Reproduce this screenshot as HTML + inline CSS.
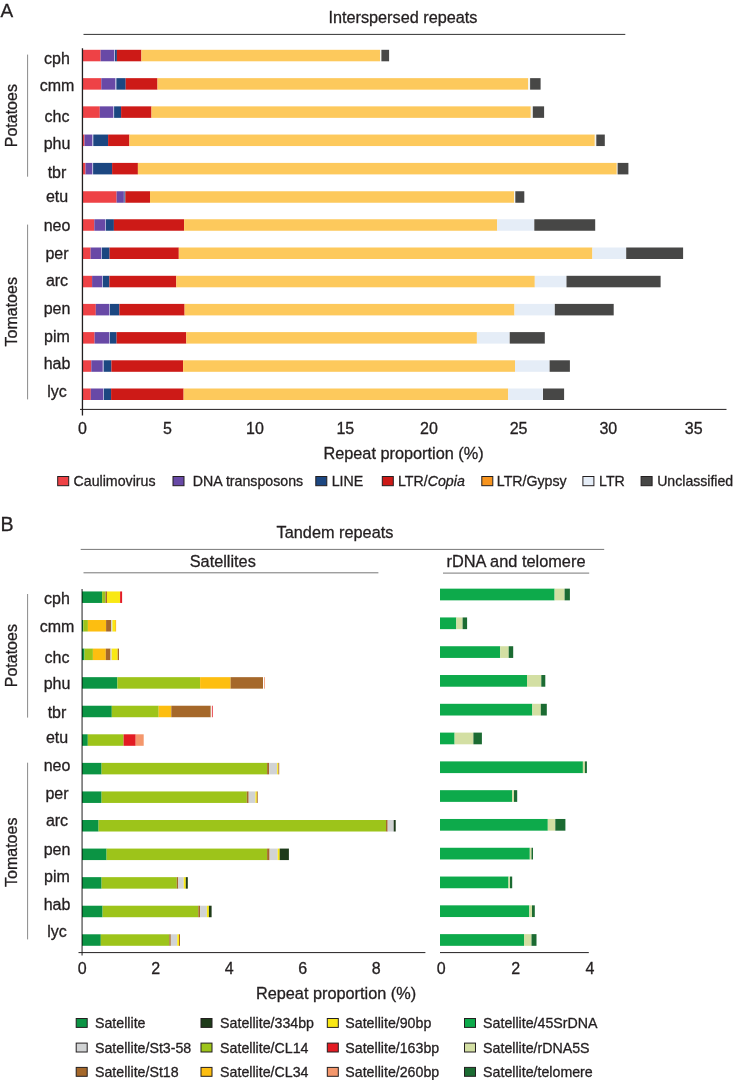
<!DOCTYPE html>
<html><head><meta charset="utf-8"><title>Repeat proportions</title>
<style>
html,body{margin:0;padding:0;background:#fff;}
body{width:734px;height:1080px;overflow:hidden;}
svg{display:block;font-family:"Liberation Sans",sans-serif;will-change:transform;opacity:0.999;}
text{stroke:#231f20;stroke-width:0.3px;}
</style></head><body>
<svg width="734" height="1080" viewBox="0 0 734 1080">
<rect x="0" y="0" width="734" height="1080" fill="#ffffff"/>
<rect x="82.40" y="49.80" width="18.20" height="11.50" fill="#ee4246"/>
<rect x="100.60" y="49.80" width="13.50" height="11.50" fill="#6849a6"/>
<rect x="114.10" y="49.80" width="0.90" height="11.50" fill="#b5afdc"/>
<rect x="115.00" y="49.80" width="1.90" height="11.50" fill="#1c4781"/>
<rect x="116.90" y="49.80" width="24.50" height="11.50" fill="#cd1a17"/>
<rect x="141.40" y="49.80" width="238.70" height="11.50" fill="#fdc95c"/>
<rect x="380.10" y="49.80" width="1.30" height="11.50" fill="#f3f3ee"/>
<rect x="381.40" y="49.80" width="7.70" height="11.50" fill="#474746"/>
<rect x="82.40" y="78.15" width="18.90" height="11.50" fill="#ee4246"/>
<rect x="101.30" y="78.15" width="14.10" height="11.50" fill="#6849a6"/>
<rect x="115.40" y="78.15" width="1.00" height="11.50" fill="#b5afdc"/>
<rect x="116.40" y="78.15" width="9.30" height="11.50" fill="#1c4781"/>
<rect x="125.70" y="78.15" width="31.80" height="11.50" fill="#cd1a17"/>
<rect x="157.50" y="78.15" width="370.60" height="11.50" fill="#fdc95c"/>
<rect x="528.10" y="78.15" width="2.00" height="11.50" fill="#f3f3ee"/>
<rect x="530.10" y="78.15" width="10.50" height="11.50" fill="#474746"/>
<rect x="82.40" y="106.35" width="17.40" height="11.50" fill="#ee4246"/>
<rect x="99.80" y="106.35" width="13.30" height="11.50" fill="#6849a6"/>
<rect x="113.10" y="106.35" width="1.00" height="11.50" fill="#b5afdc"/>
<rect x="114.10" y="106.35" width="7.00" height="11.50" fill="#1c4781"/>
<rect x="121.10" y="106.35" width="30.40" height="11.50" fill="#cd1a17"/>
<rect x="151.50" y="106.35" width="379.30" height="11.50" fill="#fdc95c"/>
<rect x="530.80" y="106.35" width="2.00" height="11.50" fill="#f3f3ee"/>
<rect x="532.80" y="106.35" width="11.30" height="11.50" fill="#474746"/>
<rect x="82.40" y="134.55" width="2.10" height="11.50" fill="#ee4246"/>
<rect x="84.50" y="134.55" width="7.60" height="11.50" fill="#6849a6"/>
<rect x="92.10" y="134.55" width="1.20" height="11.50" fill="#b5afdc"/>
<rect x="93.30" y="134.55" width="14.80" height="11.50" fill="#1c4781"/>
<rect x="108.10" y="134.55" width="21.30" height="11.50" fill="#cd1a17"/>
<rect x="129.40" y="134.55" width="465.40" height="11.50" fill="#fdc95c"/>
<rect x="594.80" y="134.55" width="1.50" height="11.50" fill="#f3f3ee"/>
<rect x="596.30" y="134.55" width="8.50" height="11.50" fill="#474746"/>
<rect x="82.40" y="162.90" width="3.10" height="11.50" fill="#ee4246"/>
<rect x="85.50" y="162.90" width="6.60" height="11.50" fill="#6849a6"/>
<rect x="92.10" y="162.90" width="1.00" height="11.50" fill="#b5afdc"/>
<rect x="93.10" y="162.90" width="19.00" height="11.50" fill="#1c4781"/>
<rect x="112.10" y="162.90" width="25.80" height="11.50" fill="#cd1a17"/>
<rect x="137.90" y="162.90" width="478.90" height="11.50" fill="#fdc95c"/>
<rect x="616.80" y="162.90" width="0.80" height="11.50" fill="#f3f3ee"/>
<rect x="617.60" y="162.90" width="10.80" height="11.50" fill="#474746"/>
<rect x="82.40" y="191.25" width="34.20" height="11.50" fill="#ee4246"/>
<rect x="116.60" y="191.25" width="7.30" height="11.50" fill="#6849a6"/>
<rect x="123.90" y="191.25" width="0.50" height="11.50" fill="#b5afdc"/>
<rect x="124.40" y="191.25" width="1.00" height="11.50" fill="#1c4781"/>
<rect x="125.40" y="191.25" width="24.60" height="11.50" fill="#cd1a17"/>
<rect x="150.00" y="191.25" width="364.10" height="11.50" fill="#fdc95c"/>
<rect x="514.10" y="191.25" width="1.20" height="11.50" fill="#f3f3ee"/>
<rect x="515.30" y="191.25" width="9.00" height="11.50" fill="#474746"/>
<rect x="82.40" y="219.25" width="11.90" height="11.50" fill="#ee4246"/>
<rect x="94.30" y="219.25" width="10.80" height="11.50" fill="#6849a6"/>
<rect x="105.10" y="219.25" width="0.80" height="11.50" fill="#b5afdc"/>
<rect x="105.90" y="219.25" width="8.00" height="11.50" fill="#1c4781"/>
<rect x="113.90" y="219.25" width="70.20" height="11.50" fill="#cd1a17"/>
<rect x="184.10" y="219.25" width="313.10" height="11.50" fill="#fdc95c"/>
<rect x="497.20" y="219.25" width="36.80" height="11.50" fill="#e5edf7"/>
<rect x="534.30" y="219.25" width="60.90" height="11.50" fill="#474746"/>
<rect x="82.40" y="247.50" width="8.20" height="11.50" fill="#ee4246"/>
<rect x="90.60" y="247.50" width="10.50" height="11.50" fill="#6849a6"/>
<rect x="101.10" y="247.50" width="0.80" height="11.50" fill="#b5afdc"/>
<rect x="101.90" y="247.50" width="7.70" height="11.50" fill="#1c4781"/>
<rect x="109.60" y="247.50" width="69.20" height="11.50" fill="#cd1a17"/>
<rect x="178.80" y="247.50" width="413.60" height="11.50" fill="#fdc95c"/>
<rect x="592.40" y="247.50" width="33.60" height="11.50" fill="#e5edf7"/>
<rect x="626.20" y="247.50" width="56.90" height="11.50" fill="#474746"/>
<rect x="82.40" y="275.80" width="9.70" height="11.50" fill="#ee4246"/>
<rect x="92.10" y="275.80" width="10.00" height="11.50" fill="#6849a6"/>
<rect x="102.10" y="275.80" width="0.80" height="11.50" fill="#b5afdc"/>
<rect x="102.90" y="275.80" width="6.50" height="11.50" fill="#1c4781"/>
<rect x="109.40" y="275.80" width="66.90" height="11.50" fill="#cd1a17"/>
<rect x="176.30" y="275.80" width="358.50" height="11.50" fill="#fdc95c"/>
<rect x="534.80" y="275.80" width="31.70" height="11.50" fill="#e5edf7"/>
<rect x="566.50" y="275.80" width="94.10" height="11.50" fill="#474746"/>
<rect x="82.40" y="303.90" width="13.40" height="11.50" fill="#ee4246"/>
<rect x="95.80" y="303.90" width="13.30" height="11.50" fill="#6849a6"/>
<rect x="109.10" y="303.90" width="0.80" height="11.50" fill="#b5afdc"/>
<rect x="109.90" y="303.90" width="9.50" height="11.50" fill="#1c4781"/>
<rect x="119.40" y="303.90" width="65.20" height="11.50" fill="#cd1a17"/>
<rect x="184.60" y="303.90" width="329.90" height="11.50" fill="#fdc95c"/>
<rect x="514.50" y="303.90" width="40.10" height="11.50" fill="#e5edf7"/>
<rect x="554.80" y="303.90" width="58.90" height="11.50" fill="#474746"/>
<rect x="82.40" y="332.10" width="12.20" height="11.50" fill="#ee4246"/>
<rect x="94.60" y="332.10" width="14.50" height="11.50" fill="#6849a6"/>
<rect x="109.10" y="332.10" width="0.80" height="11.50" fill="#b5afdc"/>
<rect x="109.90" y="332.10" width="6.70" height="11.50" fill="#1c4781"/>
<rect x="116.60" y="332.10" width="69.70" height="11.50" fill="#cd1a17"/>
<rect x="186.30" y="332.10" width="290.60" height="11.50" fill="#fdc95c"/>
<rect x="476.90" y="332.10" width="32.50" height="11.50" fill="#e5edf7"/>
<rect x="509.70" y="332.10" width="35.10" height="11.50" fill="#474746"/>
<rect x="82.40" y="360.30" width="8.90" height="11.50" fill="#ee4246"/>
<rect x="91.30" y="360.30" width="11.50" height="11.50" fill="#6849a6"/>
<rect x="102.80" y="360.30" width="1.00" height="11.50" fill="#b5afdc"/>
<rect x="103.80" y="360.30" width="7.60" height="11.50" fill="#1c4781"/>
<rect x="111.40" y="360.30" width="71.70" height="11.50" fill="#cd1a17"/>
<rect x="183.10" y="360.30" width="331.90" height="11.50" fill="#fdc95c"/>
<rect x="515.00" y="360.30" width="34.30" height="11.50" fill="#e5edf7"/>
<rect x="549.60" y="360.30" width="20.30" height="11.50" fill="#474746"/>
<rect x="82.40" y="388.50" width="8.40" height="11.50" fill="#ee4246"/>
<rect x="90.80" y="388.50" width="12.30" height="11.50" fill="#6849a6"/>
<rect x="103.10" y="388.50" width="0.80" height="11.50" fill="#b5afdc"/>
<rect x="103.90" y="388.50" width="7.20" height="11.50" fill="#1c4781"/>
<rect x="111.10" y="388.50" width="72.50" height="11.50" fill="#cd1a17"/>
<rect x="183.60" y="388.50" width="324.60" height="11.50" fill="#fdc95c"/>
<rect x="508.20" y="388.50" width="34.60" height="11.50" fill="#e5edf7"/>
<rect x="543.00" y="388.50" width="21.10" height="11.50" fill="#474746"/>
<line x1="82.45" y1="48.30" x2="82.45" y2="415.50" stroke="#231f20" stroke-width="1.3"/>
<line x1="80.00" y1="409.40" x2="726.50" y2="409.40" stroke="#231f20" stroke-width="1.0"/>
<line x1="83.50" y1="34.40" x2="625.30" y2="34.40" stroke="#333" stroke-width="1.0"/>
<line x1="27.60" y1="54.60" x2="27.60" y2="176.70" stroke="#8a8a8a" stroke-width="1.0"/>
<line x1="27.60" y1="224.60" x2="27.60" y2="399.40" stroke="#8a8a8a" stroke-width="1.0"/>
<text x="57.00" y="64.00" font-size="16" text-anchor="middle" fill="#231f20">cph</text>
<text x="57.00" y="91.00" font-size="16" text-anchor="middle" fill="#231f20">cmm</text>
<text x="57.00" y="122.00" font-size="16" text-anchor="middle" fill="#231f20">chc</text>
<text x="57.00" y="149.00" font-size="16" text-anchor="middle" fill="#231f20">phu</text>
<text x="57.00" y="178.00" font-size="16" text-anchor="middle" fill="#231f20">tbr</text>
<text x="57.00" y="202.00" font-size="16" text-anchor="middle" fill="#231f20">etu</text>
<text x="57.00" y="231.00" font-size="16" text-anchor="middle" fill="#231f20">neo</text>
<text x="57.00" y="259.00" font-size="16" text-anchor="middle" fill="#231f20">per</text>
<text x="57.00" y="286.00" font-size="16" text-anchor="middle" fill="#231f20">arc</text>
<text x="57.00" y="314.00" font-size="16" text-anchor="middle" fill="#231f20">pen</text>
<text x="57.00" y="342.00" font-size="16" text-anchor="middle" fill="#231f20">pim</text>
<text x="57.00" y="369.00" font-size="16" text-anchor="middle" fill="#231f20">hab</text>
<text x="57.00" y="397.00" font-size="16" text-anchor="middle" fill="#231f20">lyc</text>
<text transform="translate(17.10,115.70) rotate(-90)" font-size="16.0" text-anchor="middle" fill="#231f20">Potatoes</text>
<text transform="translate(17.10,311.80) rotate(-90)" font-size="16.0" text-anchor="middle" fill="#231f20">Tomatoes</text>
<text x="0.50" y="17.00" font-size="19" text-anchor="start" fill="#231f20">A</text>
<text x="402.90" y="23.00" font-size="16.25" text-anchor="middle" fill="#231f20">Interspersed repeats</text>
<text x="82.50" y="433.80" font-size="16" text-anchor="middle" fill="#231f20">0</text>
<text x="167.40" y="433.80" font-size="16" text-anchor="middle" fill="#231f20">5</text>
<text x="254.90" y="433.80" font-size="16" text-anchor="middle" fill="#231f20">10</text>
<text x="345.30" y="433.80" font-size="16" text-anchor="middle" fill="#231f20">15</text>
<text x="428.90" y="433.80" font-size="16" text-anchor="middle" fill="#231f20">20</text>
<text x="518.60" y="433.80" font-size="16" text-anchor="middle" fill="#231f20">25</text>
<text x="608.30" y="433.80" font-size="16" text-anchor="middle" fill="#231f20">30</text>
<text x="693.70" y="433.80" font-size="16" text-anchor="middle" fill="#231f20">35</text>
<text x="403.50" y="459.40" font-size="16.3" text-anchor="middle" fill="#231f20">Repeat proportion (%)</text>
<rect x="57.70" y="476.50" width="11.00" height="9.20" fill="#ee4246" stroke="#231f20" stroke-width="1"/>
<rect x="173.00" y="476.50" width="11.00" height="9.20" fill="#6849a6" stroke="#231f20" stroke-width="1"/>
<rect x="315.80" y="476.50" width="11.00" height="9.20" fill="#1c4781" stroke="#231f20" stroke-width="1"/>
<rect x="382.30" y="476.50" width="11.00" height="9.20" fill="#cd1a17" stroke="#231f20" stroke-width="1"/>
<rect x="481.80" y="476.50" width="11.00" height="9.20" fill="#f7941e" stroke="#231f20" stroke-width="1"/>
<rect x="582.90" y="476.50" width="11.00" height="9.20" fill="#e5edf7" stroke="#231f20" stroke-width="1"/>
<rect x="641.10" y="476.50" width="11.00" height="9.20" fill="#474746" stroke="#231f20" stroke-width="1"/>
<text x="73.50" y="486.10" font-size="14.2" text-anchor="start" fill="#231f20">Caulimovirus</text>
<text x="192.80" y="486.10" font-size="14.2" text-anchor="start" fill="#231f20">DNA transposons</text>
<text x="331.70" y="486.10" font-size="14.2" text-anchor="start" fill="#231f20">LINE</text>
<text x="398.0" y="486.1" font-size="14.2" fill="#231f20">LTR/<tspan font-style="italic">Copia</tspan></text>
<text x="496.80" y="486.10" font-size="14.2" text-anchor="start" fill="#231f20">LTR/Gypsy</text>
<text x="599.10" y="486.10" font-size="14.2" text-anchor="start" fill="#231f20">LTR</text>
<text x="657.20" y="486.10" font-size="14.1" text-anchor="start" fill="#231f20">Unclassified</text>
<rect x="82.00" y="591.45" width="20.10" height="11.50" fill="#0b9444"/>
<rect x="102.10" y="591.45" width="3.40" height="11.50" fill="#9dc41a"/>
<rect x="105.50" y="591.45" width="1.50" height="11.50" fill="#a5682a"/>
<rect x="107.00" y="591.45" width="13.10" height="11.50" fill="#f9e814"/>
<rect x="120.10" y="591.45" width="2.00" height="11.50" fill="#e31b23"/>
<rect x="82.00" y="620.02" width="1.30" height="11.50" fill="#0b9444"/>
<rect x="83.30" y="620.02" width="4.60" height="11.50" fill="#9dc41a"/>
<rect x="87.90" y="620.02" width="18.20" height="11.50" fill="#fdbe10"/>
<rect x="106.10" y="620.02" width="5.00" height="11.50" fill="#a5682a"/>
<rect x="111.10" y="620.02" width="1.30" height="11.50" fill="#d1d3d4"/>
<rect x="112.40" y="620.02" width="2.70" height="11.50" fill="#f9e814"/>
<rect x="115.10" y="620.02" width="1.00" height="11.50" fill="#fdbe10"/>
<rect x="82.00" y="648.59" width="2.50" height="11.50" fill="#0b9444"/>
<rect x="84.50" y="648.59" width="8.40" height="11.50" fill="#9dc41a"/>
<rect x="92.90" y="648.59" width="12.90" height="11.50" fill="#fdbe10"/>
<rect x="105.80" y="648.59" width="4.70" height="11.50" fill="#a5682a"/>
<rect x="110.50" y="648.59" width="1.20" height="11.50" fill="#d1d3d4"/>
<rect x="111.70" y="648.59" width="6.00" height="11.50" fill="#f9e814"/>
<rect x="117.70" y="648.59" width="1.30" height="11.50" fill="#a5682a"/>
<rect x="82.00" y="677.16" width="35.40" height="11.50" fill="#0b9444"/>
<rect x="117.40" y="677.16" width="82.70" height="11.50" fill="#9dc41a"/>
<rect x="200.10" y="677.16" width="30.50" height="11.50" fill="#fdbe10"/>
<rect x="230.60" y="677.16" width="32.40" height="11.50" fill="#a5682a"/>
<rect x="263.00" y="677.16" width="1.10" height="11.50" fill="#ffffff"/>
<rect x="264.10" y="677.16" width="0.80" height="11.50" fill="#f4976c"/>
<rect x="82.00" y="705.73" width="29.80" height="11.50" fill="#0b9444"/>
<rect x="111.80" y="705.73" width="46.90" height="11.50" fill="#9dc41a"/>
<rect x="158.70" y="705.73" width="12.60" height="11.50" fill="#fdbe10"/>
<rect x="171.30" y="705.73" width="39.50" height="11.50" fill="#a5682a"/>
<rect x="210.80" y="705.73" width="1.10" height="11.50" fill="#ffffff"/>
<rect x="211.90" y="705.73" width="0.80" height="11.50" fill="#e31b23"/>
<rect x="82.00" y="734.30" width="5.80" height="11.50" fill="#0b9444"/>
<rect x="87.80" y="734.30" width="35.80" height="11.50" fill="#9dc41a"/>
<rect x="123.60" y="734.30" width="12.10" height="11.50" fill="#e31b23"/>
<rect x="135.70" y="734.30" width="8.00" height="11.50" fill="#f4976c"/>
<rect x="82.00" y="762.87" width="19.60" height="11.50" fill="#0b9444"/>
<rect x="101.60" y="762.87" width="165.50" height="11.50" fill="#9dc41a"/>
<rect x="267.10" y="762.87" width="2.00" height="11.50" fill="#a5682a"/>
<rect x="269.10" y="762.87" width="8.10" height="11.50" fill="#d1d3d4"/>
<rect x="277.20" y="762.87" width="1.20" height="11.50" fill="#f9e814"/>
<rect x="278.40" y="762.87" width="0.80" height="11.50" fill="#a5682a"/>
<rect x="82.00" y="791.44" width="19.60" height="11.50" fill="#0b9444"/>
<rect x="101.60" y="791.44" width="145.20" height="11.50" fill="#9dc41a"/>
<rect x="246.80" y="791.44" width="1.90" height="11.50" fill="#a5682a"/>
<rect x="248.70" y="791.44" width="6.80" height="11.50" fill="#d1d3d4"/>
<rect x="255.50" y="791.44" width="1.30" height="11.50" fill="#f9e814"/>
<rect x="256.80" y="791.44" width="0.90" height="11.50" fill="#a5682a"/>
<rect x="82.00" y="820.01" width="16.60" height="11.50" fill="#0b9444"/>
<rect x="98.60" y="820.01" width="287.40" height="11.50" fill="#9dc41a"/>
<rect x="386.00" y="820.01" width="1.70" height="11.50" fill="#a5682a"/>
<rect x="387.70" y="820.01" width="6.00" height="11.50" fill="#d1d3d4"/>
<rect x="393.70" y="820.01" width="2.00" height="11.50" fill="#1e3b1a"/>
<rect x="82.00" y="848.58" width="24.60" height="11.50" fill="#0b9444"/>
<rect x="106.60" y="848.58" width="160.50" height="11.50" fill="#9dc41a"/>
<rect x="267.10" y="848.58" width="2.50" height="11.50" fill="#a5682a"/>
<rect x="269.60" y="848.58" width="8.10" height="11.50" fill="#d1d3d4"/>
<rect x="277.70" y="848.58" width="2.00" height="11.50" fill="#f9e814"/>
<rect x="279.70" y="848.58" width="9.20" height="11.50" fill="#1e3b1a"/>
<rect x="82.00" y="877.15" width="19.60" height="11.50" fill="#0b9444"/>
<rect x="101.60" y="877.15" width="75.20" height="11.50" fill="#9dc41a"/>
<rect x="176.80" y="877.15" width="1.50" height="11.50" fill="#a5682a"/>
<rect x="178.30" y="877.15" width="5.50" height="11.50" fill="#d1d3d4"/>
<rect x="183.80" y="877.15" width="2.00" height="11.50" fill="#f9e814"/>
<rect x="185.80" y="877.15" width="2.00" height="11.50" fill="#1e3b1a"/>
<rect x="82.00" y="905.72" width="20.60" height="11.50" fill="#0b9444"/>
<rect x="102.60" y="905.72" width="95.70" height="11.50" fill="#9dc41a"/>
<rect x="198.30" y="905.72" width="1.80" height="11.50" fill="#a5682a"/>
<rect x="200.10" y="905.72" width="6.80" height="11.50" fill="#d1d3d4"/>
<rect x="206.90" y="905.72" width="2.00" height="11.50" fill="#f9e814"/>
<rect x="208.90" y="905.72" width="2.70" height="11.50" fill="#1e3b1a"/>
<rect x="82.00" y="934.29" width="18.80" height="11.50" fill="#0b9444"/>
<rect x="100.80" y="934.29" width="68.50" height="11.50" fill="#9dc41a"/>
<rect x="169.30" y="934.29" width="1.50" height="11.50" fill="#a5682a"/>
<rect x="170.80" y="934.29" width="6.50" height="11.50" fill="#d1d3d4"/>
<rect x="177.30" y="934.29" width="1.70" height="11.50" fill="#f9e814"/>
<rect x="179.00" y="934.29" width="1.00" height="11.50" fill="#a5682a"/>
<rect x="440.00" y="588.65" width="114.60" height="11.70" fill="#0daa4b"/>
<rect x="554.60" y="588.65" width="10.00" height="11.70" fill="#d3dfa3"/>
<rect x="564.60" y="588.65" width="5.30" height="11.70" fill="#1b6b32"/>
<rect x="440.00" y="617.44" width="16.30" height="11.70" fill="#0daa4b"/>
<rect x="456.30" y="617.44" width="6.30" height="11.70" fill="#d3dfa3"/>
<rect x="462.60" y="617.44" width="4.50" height="11.70" fill="#1b6b32"/>
<rect x="440.00" y="646.23" width="60.20" height="11.70" fill="#0daa4b"/>
<rect x="500.20" y="646.23" width="8.50" height="11.70" fill="#d3dfa3"/>
<rect x="508.70" y="646.23" width="4.50" height="11.70" fill="#1b6b32"/>
<rect x="440.00" y="675.02" width="87.00" height="11.70" fill="#0daa4b"/>
<rect x="527.00" y="675.02" width="14.30" height="11.70" fill="#d3dfa3"/>
<rect x="541.30" y="675.02" width="4.00" height="11.70" fill="#1b6b32"/>
<rect x="440.00" y="703.81" width="92.30" height="11.70" fill="#0daa4b"/>
<rect x="532.30" y="703.81" width="8.50" height="11.70" fill="#d3dfa3"/>
<rect x="540.80" y="703.81" width="6.00" height="11.70" fill="#1b6b32"/>
<rect x="440.00" y="732.60" width="14.60" height="11.70" fill="#0daa4b"/>
<rect x="454.60" y="732.60" width="18.80" height="11.70" fill="#d3dfa3"/>
<rect x="473.40" y="732.60" width="8.50" height="11.70" fill="#1b6b32"/>
<rect x="440.00" y="761.39" width="142.90" height="11.70" fill="#0daa4b"/>
<rect x="582.90" y="761.39" width="2.00" height="11.70" fill="#d3dfa3"/>
<rect x="584.90" y="761.39" width="2.00" height="11.70" fill="#1b6b32"/>
<rect x="440.00" y="790.18" width="72.20" height="11.70" fill="#0daa4b"/>
<rect x="512.20" y="790.18" width="1.80" height="11.70" fill="#d3dfa3"/>
<rect x="514.00" y="790.18" width="3.20" height="11.70" fill="#1b6b32"/>
<rect x="440.00" y="818.97" width="107.80" height="11.70" fill="#0daa4b"/>
<rect x="547.80" y="818.97" width="7.50" height="11.70" fill="#d3dfa3"/>
<rect x="555.30" y="818.97" width="10.10" height="11.70" fill="#1b6b32"/>
<rect x="440.00" y="847.76" width="89.80" height="11.70" fill="#0daa4b"/>
<rect x="529.80" y="847.76" width="1.70" height="11.70" fill="#d3dfa3"/>
<rect x="531.50" y="847.76" width="1.50" height="11.70" fill="#1b6b32"/>
<rect x="440.00" y="876.55" width="68.50" height="11.70" fill="#0daa4b"/>
<rect x="508.50" y="876.55" width="1.50" height="11.70" fill="#d3dfa3"/>
<rect x="510.00" y="876.55" width="2.20" height="11.70" fill="#1b6b32"/>
<rect x="440.00" y="905.34" width="89.30" height="11.70" fill="#0daa4b"/>
<rect x="529.30" y="905.34" width="2.70" height="11.70" fill="#d3dfa3"/>
<rect x="532.00" y="905.34" width="2.80" height="11.70" fill="#1b6b32"/>
<rect x="440.00" y="934.13" width="84.00" height="11.70" fill="#0daa4b"/>
<rect x="524.00" y="934.13" width="7.50" height="11.70" fill="#d3dfa3"/>
<rect x="531.50" y="934.13" width="5.00" height="11.70" fill="#1b6b32"/>
<line x1="82.1" y1="589.0" x2="82.1" y2="955.5" stroke="#000" stroke-opacity="0.52" stroke-width="1.7"/>
<line x1="78.50" y1="952.60" x2="425.40" y2="952.60" stroke="#231f20" stroke-width="1.0"/>
<line x1="440.00" y1="952.60" x2="588.80" y2="952.60" stroke="#231f20" stroke-width="1.0"/>
<line x1="80.70" y1="549.40" x2="604.20" y2="549.40" stroke="#777" stroke-width="1.0"/>
<line x1="83.50" y1="572.80" x2="378.40" y2="572.80" stroke="#777" stroke-width="1.0"/>
<line x1="443.00" y1="573.10" x2="589.20" y2="573.10" stroke="#777" stroke-width="1.0"/>
<line x1="27.60" y1="594.00" x2="27.60" y2="717.60" stroke="#8a8a8a" stroke-width="1.0"/>
<line x1="27.60" y1="762.70" x2="27.60" y2="939.40" stroke="#8a8a8a" stroke-width="1.0"/>
<text x="0.40" y="531.00" font-size="19.6" text-anchor="start" fill="#231f20">B</text>
<text x="335.00" y="538.20" font-size="16.3" text-anchor="middle" fill="#231f20">Tandem repeats</text>
<text x="222.80" y="566.80" font-size="16.3" text-anchor="middle" fill="#231f20">Satellites</text>
<text x="516.00" y="567.10" font-size="16.35" text-anchor="middle" fill="#231f20">rDNA and telomere</text>
<text x="57.00" y="604.00" font-size="16" text-anchor="middle" fill="#231f20">cph</text>
<text x="57.00" y="632.00" font-size="16" text-anchor="middle" fill="#231f20">cmm</text>
<text x="57.00" y="663.00" font-size="16" text-anchor="middle" fill="#231f20">chc</text>
<text x="57.00" y="689.00" font-size="16" text-anchor="middle" fill="#231f20">phu</text>
<text x="57.00" y="718.00" font-size="16" text-anchor="middle" fill="#231f20">tbr</text>
<text x="57.00" y="743.00" font-size="16" text-anchor="middle" fill="#231f20">etu</text>
<text x="57.00" y="771.00" font-size="16" text-anchor="middle" fill="#231f20">neo</text>
<text x="57.00" y="799.00" font-size="16" text-anchor="middle" fill="#231f20">per</text>
<text x="57.00" y="826.00" font-size="16" text-anchor="middle" fill="#231f20">arc</text>
<text x="57.00" y="855.00" font-size="16" text-anchor="middle" fill="#231f20">pen</text>
<text x="57.00" y="882.00" font-size="16" text-anchor="middle" fill="#231f20">pim</text>
<text x="57.00" y="910.00" font-size="16" text-anchor="middle" fill="#231f20">hab</text>
<text x="57.00" y="937.00" font-size="16" text-anchor="middle" fill="#231f20">lyc</text>
<text transform="translate(17.10,655.70) rotate(-90)" font-size="16.0" text-anchor="middle" fill="#231f20">Potatoes</text>
<text transform="translate(17.10,852.30) rotate(-90)" font-size="16.0" text-anchor="middle" fill="#231f20">Tomatoes</text>
<text x="82.10" y="973.80" font-size="16" text-anchor="middle" fill="#231f20">0</text>
<text x="155.64" y="973.80" font-size="16" text-anchor="middle" fill="#231f20">2</text>
<text x="229.18" y="973.80" font-size="16" text-anchor="middle" fill="#231f20">4</text>
<text x="302.72" y="973.80" font-size="16" text-anchor="middle" fill="#231f20">6</text>
<text x="376.26" y="973.80" font-size="16" text-anchor="middle" fill="#231f20">8</text>
<text x="441.30" y="973.80" font-size="16" text-anchor="middle" fill="#231f20">0</text>
<text x="515.60" y="973.80" font-size="16" text-anchor="middle" fill="#231f20">2</text>
<text x="589.90" y="973.80" font-size="16" text-anchor="middle" fill="#231f20">4</text>
<text x="336.00" y="998.50" font-size="16.3" text-anchor="middle" fill="#231f20">Repeat proportion (%)</text>
<rect x="76.20" y="1018.50" width="11.00" height="8.90" fill="#0b9444" stroke="#231f20" stroke-width="1"/>
<text x="95.00" y="1028.00" font-size="14.2" text-anchor="start" fill="#231f20">Satellite</text>
<rect x="76.20" y="1043.10" width="11.00" height="8.90" fill="#d1d3d4" stroke="#231f20" stroke-width="1"/>
<text x="95.00" y="1052.80" font-size="14.2" text-anchor="start" fill="#231f20">Satellite/St3-58</text>
<rect x="76.20" y="1067.40" width="11.00" height="8.90" fill="#a5682a" stroke="#231f20" stroke-width="1"/>
<text x="95.00" y="1077.00" font-size="14.2" text-anchor="start" fill="#231f20">Satellite/St18</text>
<rect x="201.00" y="1018.50" width="11.00" height="8.90" fill="#1e3b1a" stroke="#231f20" stroke-width="1"/>
<text x="220.10" y="1028.00" font-size="14.2" text-anchor="start" fill="#231f20">Satellite/334bp</text>
<rect x="201.00" y="1043.10" width="11.00" height="8.90" fill="#9dc41a" stroke="#231f20" stroke-width="1"/>
<text x="220.10" y="1052.80" font-size="14.2" text-anchor="start" fill="#231f20">Satellite/CL14</text>
<rect x="201.00" y="1067.40" width="11.00" height="8.90" fill="#fdbe10" stroke="#231f20" stroke-width="1"/>
<text x="220.10" y="1077.00" font-size="14.2" text-anchor="start" fill="#231f20">Satellite/CL34</text>
<rect x="327.30" y="1018.50" width="11.00" height="8.90" fill="#f9e814" stroke="#231f20" stroke-width="1"/>
<text x="345.30" y="1028.00" font-size="14.2" text-anchor="start" fill="#231f20">Satellite/90bp</text>
<rect x="327.30" y="1043.10" width="11.00" height="8.90" fill="#e31b23" stroke="#231f20" stroke-width="1"/>
<text x="345.30" y="1052.80" font-size="14.2" text-anchor="start" fill="#231f20">Satellite/163bp</text>
<rect x="327.30" y="1067.40" width="11.00" height="8.90" fill="#f4976c" stroke="#231f20" stroke-width="1"/>
<text x="345.30" y="1077.00" font-size="14.2" text-anchor="start" fill="#231f20">Satellite/260bp</text>
<rect x="464.50" y="1018.50" width="11.00" height="8.90" fill="#0daa4b" stroke="#231f20" stroke-width="1"/>
<text x="483.10" y="1028.00" font-size="14.2" text-anchor="start" fill="#231f20">Satellite/45SrDNA</text>
<rect x="464.50" y="1043.10" width="11.00" height="8.90" fill="#d3dfa3" stroke="#231f20" stroke-width="1"/>
<text x="483.10" y="1052.80" font-size="14.2" text-anchor="start" fill="#231f20">Satellite/rDNA5S</text>
<rect x="464.50" y="1067.40" width="11.00" height="8.90" fill="#1b6b32" stroke="#231f20" stroke-width="1"/>
<text x="483.10" y="1077.00" font-size="14.2" text-anchor="start" fill="#231f20">Satellite/telomere</text>
</svg>
</body></html>
